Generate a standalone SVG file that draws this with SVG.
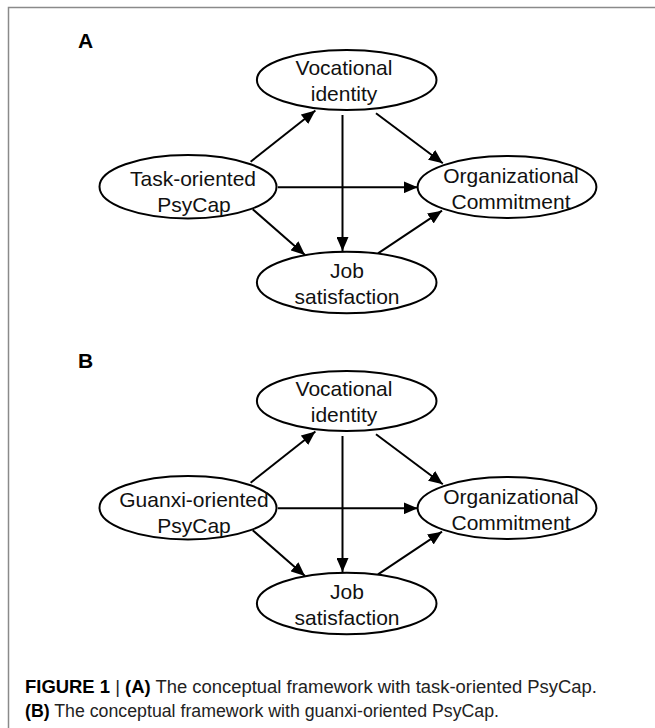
<svg xmlns="http://www.w3.org/2000/svg" width="655" height="728" viewBox="0 0 655 728">
<style>
.frame{stroke:#8a8a8a;stroke-width:1.5;fill:none}
.node{fill:#fff;stroke:#000;stroke-width:2}
.nt{font-family:"Liberation Sans",Arial,sans-serif;font-size:21px;fill:#111;text-anchor:middle}
.lbl{font-family:"Liberation Sans",Arial,sans-serif;font-size:21px;font-weight:bold;fill:#000}
.edge{stroke:#000;stroke-width:2;fill:none;marker-end:url(#ah)}
.cap{font-family:"Liberation Sans",Arial,sans-serif;font-size:17.5px;fill:#222}
.b{font-weight:bold;fill:#000}
</style>
<defs>
<marker id="ah" markerUnits="userSpaceOnUse" markerWidth="14" markerHeight="12" refX="14" refY="6" orient="auto">
<path d="M0,0 L14,6 L0,12 z" fill="#000"/>
</marker>
</defs>
<rect width="655" height="728" fill="#fff"/>
<path class="frame" d="M8.5,728 V7.5 H655"/>

<g id="panelA">
<text class="lbl" x="78" y="48">A</text>
<g id="connectorsA">
<line class="edge" x1="250.6" y1="161.7" x2="315.4" y2="110.5"/>
<line class="edge" x1="376" y1="113.3" x2="442.8" y2="163.3"/>
<line class="edge" x1="277.8" y1="187.3" x2="417.7" y2="187.3"/>
<line class="edge" x1="342.5" y1="115" x2="342.5" y2="251"/>
<line class="edge" x1="252.7" y1="209.3" x2="305" y2="255"/>
<line class="edge" x1="378" y1="253.3" x2="442" y2="210.7"/>
</g>
<g id="A-vocational"><ellipse class="node" cx="346.7" cy="80" rx="89.8" ry="30"/><text class="nt" x="344" y="75">Vocational</text><text class="nt" x="344" y="101">identity</text></g>
<g id="A-task"><ellipse class="node" cx="188" cy="186.7" rx="88.5" ry="31.7"/><text class="nt" x="193" y="186">Task-oriented</text><text class="nt" x="194" y="212">PsyCap</text></g>
<g id="A-org"><ellipse class="node" cx="507" cy="187" rx="89.4" ry="31"/><text class="nt" x="511" y="183">Organizational</text><text class="nt" x="511" y="208.5">Commitment</text></g>
<g id="A-job"><ellipse class="node" cx="346.7" cy="282.5" rx="89.8" ry="30.8"/><text class="nt" x="347" y="278">Job</text><text class="nt" x="347" y="304">satisfaction</text></g>
</g>

<g id="panelB" transform="translate(0,321)">
<text class="lbl" x="78" y="47">B</text>
<g id="connectorsB">
<line class="edge" x1="250.6" y1="161.7" x2="315.4" y2="110.5"/>
<line class="edge" x1="376" y1="113.3" x2="442.8" y2="163.3"/>
<line class="edge" x1="277.8" y1="187.3" x2="417.7" y2="187.3"/>
<line class="edge" x1="342.5" y1="115" x2="342.5" y2="251"/>
<line class="edge" x1="252.7" y1="209.3" x2="305" y2="255"/>
<line class="edge" x1="378" y1="253.3" x2="442" y2="210.7"/>
</g>
<g id="B-vocational"><ellipse class="node" cx="346.7" cy="80" rx="89.8" ry="30"/><text class="nt" x="344" y="75">Vocational</text><text class="nt" x="344" y="101">identity</text></g>
<g id="B-guanxi"><ellipse class="node" cx="188" cy="186.7" rx="88.5" ry="31.7"/><text class="nt" x="194" y="186">Guanxi-oriented</text><text class="nt" x="194" y="212">PsyCap</text></g>
<g id="B-org"><ellipse class="node" cx="507" cy="187" rx="89.4" ry="31"/><text class="nt" x="511" y="183">Organizational</text><text class="nt" x="511" y="208.5">Commitment</text></g>
<g id="B-job"><ellipse class="node" cx="346.7" cy="282.5" rx="89.8" ry="30.8"/><text class="nt" x="347" y="278">Job</text><text class="nt" x="347" y="304">satisfaction</text></g>
</g>

<g id="caption">
<text class="cap" x="25" y="692.5" textLength="572" lengthAdjust="spacingAndGlyphs"><tspan class="b">FIGURE 1</tspan> | <tspan class="b">(A)</tspan> The conceptual framework with task-oriented PsyCap.</text>
<text class="cap" x="25" y="716.5" textLength="474" lengthAdjust="spacingAndGlyphs"><tspan class="b">(B)</tspan> The conceptual framework with guanxi-oriented PsyCap.</text>
</g>
</svg>
